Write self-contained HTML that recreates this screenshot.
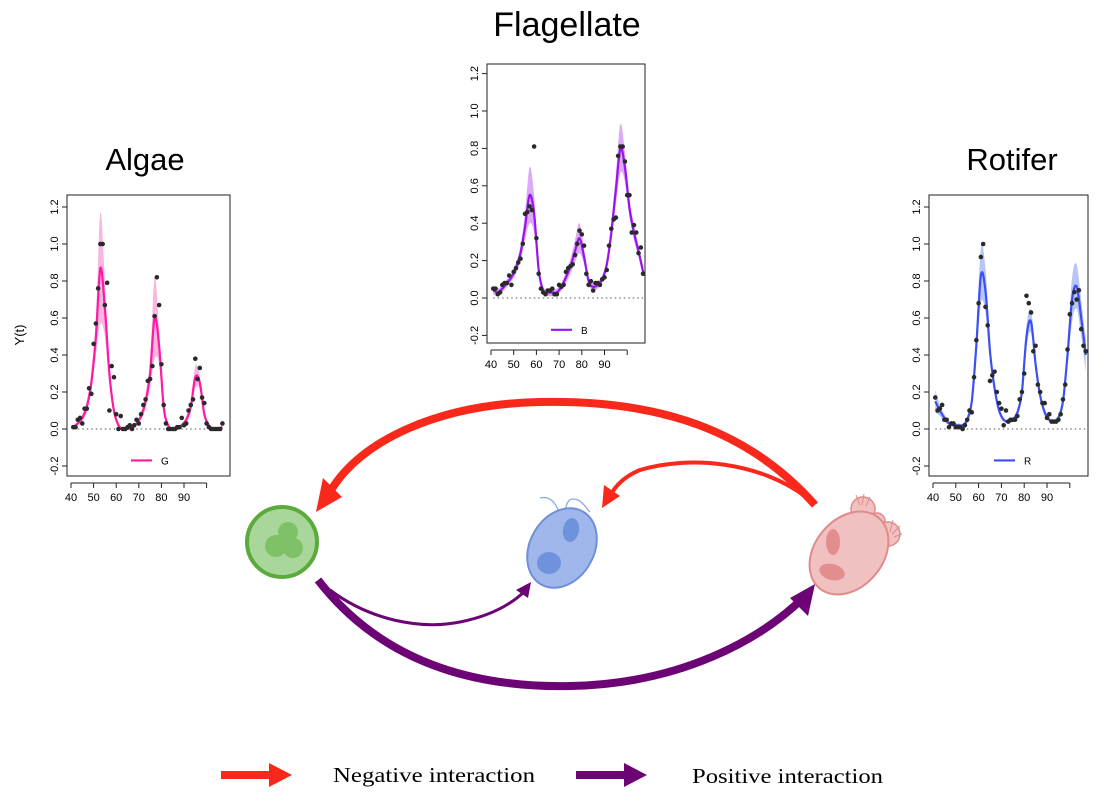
<!DOCTYPE html>
<html><head><meta charset="utf-8">
<style>
html,body{margin:0;padding:0;background:#fff;}
svg{display:block;font-family:"Liberation Sans",sans-serif;}
</style></head>
<body>
<svg id="fig" width="1116" height="802" viewBox="0 0 1116 802">
  <text x="567" y="36" font-size="34" text-anchor="middle">Flagellate</text>
  <text x="145" y="170" font-size="31" text-anchor="middle">Algae</text>
  <text x="1012" y="170" font-size="31" text-anchor="middle">Rotifer</text>
  <text x="0" y="0" font-size="13" text-anchor="middle" transform="translate(24,335) rotate(-90)">Y(t)</text>

  <g id="charts"></g>

  <g>
    <circle cx="282" cy="542" r="35" fill="#a9d69a" stroke="#5aaa3c" stroke-width="4"/>
    <circle cx="288" cy="532" r="10" fill="#7fc167"/>
    <circle cx="276" cy="546" r="11" fill="#7fc167"/>
    <circle cx="293" cy="548" r="10" fill="#7fc167"/>
  </g>
  <g>
    <path d="M560 516 C556 500 548 496 540 498 M565 515 C566 500 570 497 578 500 C584 503 586 508 590 512" fill="none" stroke="#8aa8e8" stroke-width="1.3"/>
    <ellipse cx="562" cy="548" rx="32" ry="42" transform="rotate(30 562 548)" fill="#9fb7ea" stroke="#6f8fd8" stroke-width="2"/>
    <ellipse cx="571" cy="530" rx="8" ry="12" transform="rotate(10 571 530)" fill="#6e93dc"/>
    <ellipse cx="549" cy="563" rx="12" ry="11" fill="#6e93dc"/>
  </g>
  <g>
    <circle cx="863" cy="509" r="12" fill="#f1c1c1" stroke="#e08a8a" stroke-width="1.5"/>
    <circle cx="877" cy="521" r="8" fill="#f1c1c1" stroke="#e08a8a" stroke-width="1.5"/>
    <circle cx="888" cy="534" r="12" fill="#f1c1c1" stroke="#e08a8a" stroke-width="1.5"/>
    <path d="M856 495 L860 505 M864 494 L862 505 M870 497 L866 506 M893 520 L890 532 M900 526 L892 534 M902 534 L894 537" stroke="#e08a8a" stroke-width="1"/>
    <ellipse cx="849" cy="553" rx="34" ry="46" transform="rotate(40 849 553)" fill="#f1c1c1" stroke="#e08a8a" stroke-width="2"/>
    <ellipse cx="833" cy="542" rx="7" ry="13" fill="#e28e8e"/>
    <ellipse cx="832" cy="572" rx="13" ry="8" transform="rotate(15 832 572)" fill="#e28e8e"/>
  </g>

  <g>
    <path d="M815 505 C740 420 640 400 540 402 C440 404 360 440 330 492" fill="none" stroke="#f8291b" stroke-width="8"/>
    <polygon points="316,512 323,478 342,497" fill="#f8291b"/>
  </g>
  <g>
    <path d="M806 497 C760 462 690 455 640 470 C625 476 615 486 610 496" fill="none" stroke="#f8291b" stroke-width="4"/>
    <polygon points="602,508 604,485 620,496" fill="#f8291b"/>
  </g>
  <g>
    <path d="M318 580 C380 660 470 688 570 686 C680 684 760 640 803 598" fill="none" stroke="#6d0476" stroke-width="8"/>
    <polygon points="815,584 808,616 790,598" fill="#6d0476"/>
  </g>
  <g>
    <path d="M330 590 C370 620 420 630 460 622 C490 616 510 605 524 592" fill="none" stroke="#6d0476" stroke-width="3"/>
    <polygon points="531,582 528,598 516,590" fill="#6d0476"/>
  </g>

  <g>
    <rect x="221" y="771" width="50" height="8" fill="#f8291b"/>
    <polygon points="269,763 292,775 269,787" fill="#f8291b"/>
    <text x="333" y="782" font-family="Liberation Serif, serif" font-size="21" textLength="202" lengthAdjust="spacingAndGlyphs">Negative interaction</text>
  </g>
  <g>
    <rect x="576" y="771" width="50" height="8" fill="#6d0476"/>
    <polygon points="624,763 647,775 624,787" fill="#6d0476"/>
    <text x="692" y="783" font-family="Liberation Serif, serif" font-size="21" textLength="191" lengthAdjust="spacingAndGlyphs">Positive interaction</text>
  </g>
</svg>
<script>
const timeObs = [];
for (let t = 41; t <= 107; t++) timeObs.push(t);
const timeFit = [];
for (let t = 41; t <= 107; t += 2) timeFit.push(t);

const algaeObs = [0.01,0.01,0.05,0.06,0.03,0.11,0.11,0.22,0.19,0.46,0.57,0.76,1.0,1.0,0.67,0.79,0.10,0.34,0.28,0.08,0.0,0.07,0.0,0.0,0.01,0.02,0.0,0.02,0.05,0.03,0.08,0.13,0.16,0.26,0.27,0.34,0.61,0.82,0.67,0.35,0.13,0.03,0.0,0.0,0.0,0.0,0.01,0.01,0.06,0.02,0.03,0.10,0.13,0.16,0.38,0.27,0.33,0.17,0.14,0.03,0.01,0.0,0.0,0.0,0.0,0.0,0.03];
const algaeFit = [0.01,0.03,0.06,0.12,0.25,0.5,0.87,0.65,0.3,0.1,0.02,0.0,0.0,0.01,0.03,0.07,0.15,0.3,0.6,0.45,0.12,0.02,0.0,0.0,0.02,0.05,0.12,0.28,0.25,0.08,0.02,0.0,0.0,0.01];
const algaeBand = [0.01,0.01,0.02,0.03,0.05,0.1,0.3,0.15,0.06,0.02,0.01,0.01,0.01,0.01,0.01,0.02,0.04,0.08,0.22,0.1,0.03,0.01,0.01,0.01,0.01,0.02,0.03,0.06,0.04,0.02,0.01,0.01,0.01,0.01];

const flagObs = [0.05,0.05,0.02,0.03,0.07,0.08,0.08,0.12,0.07,0.14,0.16,0.19,0.21,0.29,0.45,0.46,0.49,0.47,0.81,0.32,0.13,0.05,0.03,0.02,0.04,0.04,0.05,0.02,0.02,0.07,0.06,0.07,0.14,0.16,0.17,0.18,0.23,0.29,0.36,0.34,0.28,0.13,0.07,0.09,0.04,0.08,0.08,0.07,0.10,0.11,0.15,0.28,0.37,0.42,0.43,0.76,0.81,0.81,0.73,0.55,0.55,0.35,0.39,0.35,0.24,0.27,0.13];
const flagFit = [0.04,0.03,0.05,0.08,0.11,0.16,0.24,0.38,0.55,0.45,0.15,0.04,0.03,0.03,0.03,0.06,0.11,0.17,0.25,0.32,0.22,0.09,0.06,0.07,0.1,0.18,0.35,0.58,0.8,0.7,0.48,0.35,0.25,0.14];
const flagBand = [0.02,0.02,0.02,0.02,0.02,0.03,0.04,0.07,0.15,0.1,0.03,0.02,0.02,0.02,0.02,0.02,0.03,0.04,0.06,0.08,0.04,0.02,0.02,0.02,0.02,0.03,0.05,0.08,0.13,0.08,0.05,0.04,0.03,0.03];

const rotObs = [0.17,0.10,0.11,0.13,0.05,0.05,0.01,0.03,0.03,0.01,0.01,0.01,0.0,0.02,0.05,0.10,0.09,0.28,0.48,0.68,0.93,1.0,0.66,0.56,0.26,0.29,0.31,0.20,0.14,0.11,0.02,0.10,0.04,0.05,0.05,0.05,0.07,0.16,0.20,0.30,0.72,0.68,0.63,0.42,0.45,0.24,0.20,0.14,0.14,0.06,0.08,0.04,0.04,0.04,0.05,0.08,0.16,0.24,0.43,0.62,0.68,0.74,0.70,0.75,0.54,0.45,0.42];
const rotFit = [0.15,0.1,0.06,0.03,0.02,0.02,0.02,0.05,0.15,0.45,0.83,0.75,0.42,0.22,0.1,0.05,0.04,0.05,0.09,0.2,0.5,0.58,0.35,0.18,0.09,0.05,0.04,0.06,0.15,0.4,0.7,0.77,0.6,0.4];
const rotBand = [0.06,0.03,0.02,0.01,0.01,0.01,0.01,0.02,0.03,0.07,0.15,0.12,0.05,0.03,0.02,0.01,0.01,0.01,0.02,0.03,0.06,0.06,0.04,0.02,0.02,0.01,0.01,0.02,0.03,0.06,0.12,0.12,0.1,0.09];

const yTicks = [-0.2,0.0,0.2,0.4,0.6,0.8,1.0,1.2];
const yTickLabels = ["-0.2","0.0","0.2","0.4","0.6","0.8","1.0","1.2"];
const xTicks = [40,50,60,70,80,90,100];
const xTickLabels = ["40","50","60","70","80","90",""];

const NS = "http://www.w3.org/2000/svg";
const root = document.getElementById("charts");
function mk(tag, attrs, parent) {
  const e = document.createElementNS(NS, tag);
  for (const k in attrs) e.setAttribute(k, attrs[k]);
  (parent || root).appendChild(e);
  return e;
}
function smoothPath(pts) {
  let d = "M" + pts[0][0].toFixed(1) + " " + pts[0][1].toFixed(1);
  for (let i = 0; i < pts.length - 1; i++) {
    const p0 = pts[Math.max(0, i - 1)], p1 = pts[i], p2 = pts[i + 1], p3 = pts[Math.min(pts.length - 1, i + 2)];
    const c1 = [p1[0] + (p2[0] - p0[0]) / 6, p1[1] + (p2[1] - p0[1]) / 6];
    const c2 = [p2[0] - (p3[0] - p1[0]) / 6, p2[1] - (p3[1] - p1[1]) / 6];
    d += " C" + c1[0].toFixed(1) + " " + c1[1].toFixed(1) + " " + c2[0].toFixed(1) + " " + c2[1].toFixed(1) + " " + p2[0].toFixed(1) + " " + p2[1].toFixed(1);
  }
  return d;
}
function chart(cfg) {
  const g = mk("g", {});
  
  
  const xs = t => cfg.x40 + (t - 40) * cfg.xUnit;
  const ys = v => cfg.y0 - v * cfg.yUnit;
  const up = timeFit.map((t, i) => [xs(t), ys(cfg.fit[i] + cfg.band[i])]);
  const lo = timeFit.map((t, i) => [xs(t), ys(Math.max(cfg.fit[i] - cfg.band[i], 0))]).reverse();
  const band = mk("path", { d: smoothPath(up) + " L" + smoothPath(lo).slice(1) + " Z", fill: cfg.bandColor, stroke: "none" }, g);
  
  
  const zl = mk("line", { x1: xs(41), x2: xs(107), y1: ys(0), y2: ys(0), stroke: "#555", "stroke-width": 1, "stroke-dasharray": "1.5 3" }, g);
  
  
  const fl = mk("path", { d: smoothPath(timeFit.map((t, i) => [xs(t), ys(cfg.fit[i])])), fill: "none", stroke: cfg.color, "stroke-width": 2.2 }, g);
  
  
  cfg.obs.forEach((v, i) => {
    const c = mk("circle", { cx: xs(timeObs[i]), cy: ys(v), r: 2.3, fill: "#2a2a2a" }, g);
    
    
  });
  const box = mk("rect", { x: cfg.left, y: cfg.top, width: cfg.right - cfg.left, height: cfg.bottom - cfg.top, fill: "none", stroke: "#222", "stroke-width": 1 }, g);
  
  
  yTicks.forEach((v, i) => {
    mk("line", { x1: cfg.left, x2: cfg.left - 5, y1: ys(v), y2: ys(v), stroke: "#222" }, g);
    const tx = mk("text", { x: 0, y: 0, "font-size": 11, "text-anchor": "middle", transform: "translate(" + (cfg.left - 9) + "," + ys(v) + ") rotate(-90)" }, g);
    tx.textContent = yTickLabels[i];
    
    
  });
  const ax = cfg.bottom + 7;
  mk("line", { x1: xs(40), x2: xs(100), y1: ax, y2: ax, stroke: "#222" }, g);
  xTicks.forEach((v, i) => {
    mk("line", { x1: xs(v), x2: xs(v), y1: ax, y2: ax + 5, stroke: "#222" }, g);
    const tx = mk("text", { x: xs(v), y: ax + 18, "font-size": 11, "text-anchor": "middle" }, g);
    tx.textContent = xTickLabels[i];
    
    
  });
  const lg = mk("g", {}, g);
  
  
  const ly = ys(-0.17);
  mk("line", { x1: cfg.legX, x2: cfg.legX + 21, y1: ly, y2: ly, stroke: cfg.color, "stroke-width": 2.2 }, lg);
  const lt = mk("text", { x: cfg.legX + 30, y: ly + 4, "font-size": 10 }, lg);
  lt.textContent = cfg.label;
}
chart({ name: "algae-chart", obs: algaeObs, fit: algaeFit, band: algaeBand, color: "#ff1aa6", bandColor: "#f9b6df", label: "G",
  left: 67, right: 230, top: 195, bottom: 476, x40: 71, xUnit: 2.26, y0: 429, yUnit: 185, legX: 131 });
chart({ name: "flagellate-chart", obs: flagObs, fit: flagFit, band: flagBand, color: "#9a12f2", bandColor: "#dcaaf5", label: "B",
  left: 487, right: 645, top: 64, bottom: 343, x40: 491, xUnit: 2.27, y0: 298, yUnit: 187, legX: 551 });
chart({ name: "rotifer-chart", obs: rotObs, fit: rotFit, band: rotBand, color: "#3c4ff5", bandColor: "#b7c6f6", label: "R",
  left: 929, right: 1088, top: 195, bottom: 476, x40: 933, xUnit: 2.28, y0: 429, yUnit: 185, legX: 994 });
</script>
</body></html>
